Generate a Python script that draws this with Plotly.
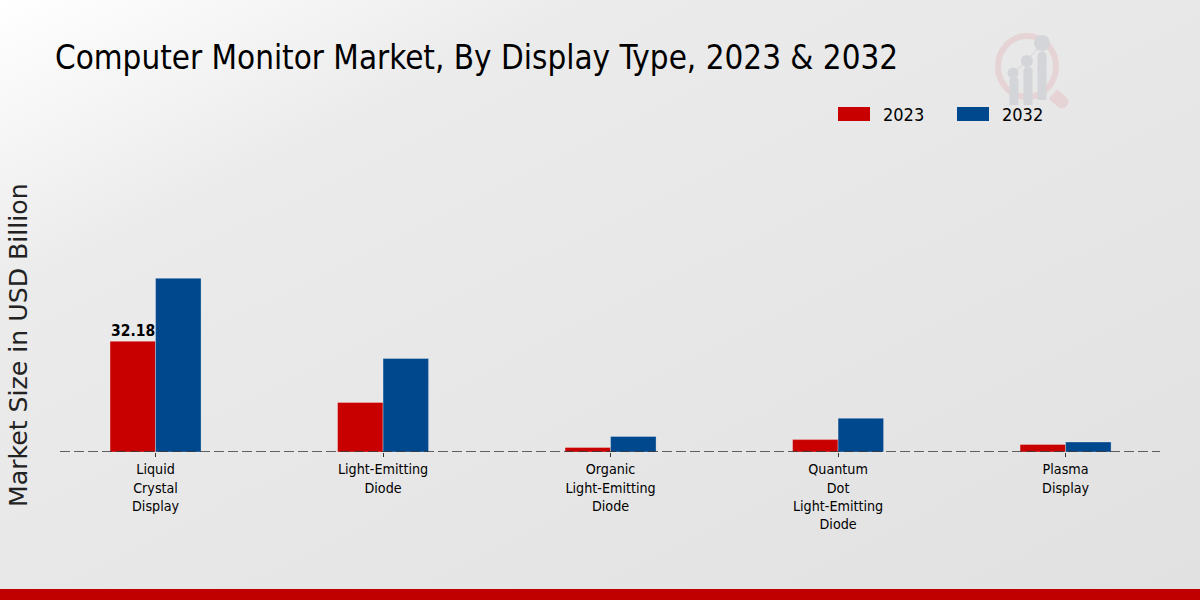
import base64

import plotly.graph_objects as go

categories = [
    "Liquid<br>Crystal<br>Display",
    "Light-Emitting<br>Diode",
    "Organic<br>Light-Emitting<br>Diode",
    "Quantum<br>Dot<br>Light-Emitting<br>Diode",
    "Plasma<br>Display",
]
values_2023 = [32.18, 14.4, 1.3, 3.6, 2.2]
values_2032 = [50.5, 27.2, 4.5, 9.8, 2.9]

title = "Computer Monitor Market, By Display Type, 2023 & 2032"
y_title = "Market Size in USD Billion"

RED = "#c80000"
BLUE = "#00488d"
FONT = "DejaVu Sans Condensed"
LOGO_RED = "#e6d3d5"
LOGO_GREY = "#d3d5d8"
W, H = 1200, 600
# plot area in page pixels
LEFT, RIGHT, TOP, BASE = 60, 1160, 100, 452


def px(x):
    return (x - LEFT) / (RIGHT - LEFT)


def py(y):
    return (BASE - y) / (BASE - TOP)


# background gradient, goes in as an svg image
svg = (
    f'<svg xmlns="http://www.w3.org/2000/svg" width="{W}" height="{H}">'
    '<defs><linearGradient id="g" x1="0" y1="0" x2="1" y2="1">'
    '<stop offset="0" stop-color="#ffffff"/>'
    '<stop offset="0.25" stop-color="#ebebeb"/>'
    '<stop offset="1" stop-color="#e1e1e1"/>'
    '</linearGradient></defs>'
    f'<rect width="{W}" height="{H}" fill="url(#g)"/></svg>'
)
bg_uri = "data:image/svg+xml;base64," + base64.b64encode(svg.encode()).decode()

fig = go.Figure()
fig.add_trace(go.Bar(
    x=categories, y=values_2023, name="2023",
    marker=dict(color=RED, line=dict(color="rgba(255,255,255,0.6)", width=0.5)),
))
fig.add_trace(go.Bar(
    x=categories, y=values_2032, name="2032",
    marker=dict(color=BLUE, line=dict(color="rgba(255,255,255,0.6)", width=0.5)),
))


def rect(x0, x1, y0, y1, color):
    return dict(type="rect", xref="paper", yref="paper", x0=px(x0), x1=px(x1), y0=py(y0), y1=py(y1),
                fillcolor=color, line_width=0)


def logo_line(x0, y0, x1, y1, color, width):
    return dict(type="line", xref="paper", yref="paper", x0=px(x0), x1=px(x1), y0=py(y0), y1=py(y1),
                line=dict(color=color, width=width), layer="below")


def logo_dot(cx, cy, r, color):
    return dict(type="circle", xref="paper", yref="paper", x0=px(cx - r), x1=px(cx + r),
                y0=py(cy + r), y1=py(cy - r), fillcolor=color, line_width=0, layer="below")


shapes = [
    # dashed baseline
    dict(type="line", xref="paper", yref="y", x0=0, x1=1, y0=0, y1=0,
         line=dict(color="#333333", width=1.5, dash="10px,4px"), layer="above"),
    # bottom strip
    rect(0, W, H, 589, "#c00000"),
    # legend swatches
    rect(838, 870, 121, 107, RED),
    rect(957, 989, 121, 107, BLUE),
    # watermark logo
    dict(type="circle", xref="paper", yref="paper", x0=px(998), x1=px(1056), y0=py(97), y1=py(36),
         fillcolor="rgba(0,0,0,0)", line=dict(color=LOGO_RED, width=6), layer="below"),
    logo_line(1053, 94, 1062, 102, LOGO_RED, 13),
    logo_dot(1062, 102, 6.5, LOGO_RED),
    logo_line(1013, 73, 1027, 61, LOGO_GREY, 1),
    logo_line(1027, 61, 1042, 43, LOGO_GREY, 1),
    logo_line(1014, 105, 1014, 81, LOGO_GREY, 9),
    logo_line(1028, 105, 1028, 71, LOGO_GREY, 9),
    logo_line(1042, 100, 1042, 56, LOGO_GREY, 9),
    logo_dot(1014, 81, 4.5, LOGO_GREY),
    logo_dot(1028, 71, 4.5, LOGO_GREY),
    logo_dot(1042, 56, 4.5, LOGO_GREY),
    logo_dot(1013, 73, 5.5, LOGO_GREY),
    logo_dot(1027, 61, 6, LOGO_GREY),
    logo_dot(1042, 43, 8, LOGO_GREY),
]

annotations = [
    dict(text=title, xref="paper", yref="paper", x=px(53), y=py(57), xanchor="left", yanchor="middle",
         showarrow=False, font=dict(family=FONT, size=32.9, color="black")),
    dict(text=y_title, xref="paper", yref="paper", x=px(18), y=py(345), xanchor="center", yanchor="middle",
         textangle=-90, showarrow=False, font=dict(family="DejaVu Sans", size=25.2, color="#222222")),
    dict(text="2023", xref="paper", yref="paper", x=px(881), y=py(114), xanchor="left", yanchor="middle",
         showarrow=False, font=dict(family=FONT, size=18, color="black")),
    dict(text="2032", xref="paper", yref="paper", x=px(1000), y=py(114), xanchor="left", yanchor="middle",
         showarrow=False, font=dict(family=FONT, size=18, color="black")),
    # value label on the first red bar
    dict(text=f"<b>{values_2023[0]}</b>", x=0, y=values_2023[0], xref="x", yref="y",
         xanchor="center", yanchor="bottom", xshift=-22.7, yshift=-1, showarrow=False,
         font=dict(family=FONT, size=15.5, color="black")),
]

fig.update_layout(
    width=W, height=H,
    autosize=False,
    barmode="group", bargap=0.6, bargroupgap=0,
    showlegend=False,
    paper_bgcolor="#e6e6e6", plot_bgcolor="rgba(0,0,0,0)",
    margin=dict(l=LEFT, r=W - RIGHT, t=TOP, b=H - BASE, pad=0),
    shapes=shapes, annotations=annotations,
    images=[dict(source=bg_uri, xref="paper", yref="paper", x=px(0), y=py(0),
                 sizex=W / (RIGHT - LEFT), sizey=H / (BASE - TOP),
                 xanchor="left", yanchor="top", sizing="stretch", layer="below")],
)
fig.update_xaxes(
    type="category", range=[-0.42, 4.415], showgrid=False, zeroline=False, showline=False,
    ticks="outside", ticklen=4, tickwidth=1, tickcolor="#333333", tickangle=0,
    tickfont=dict(family=FONT, size=14.2, color="black"),
)
fig.update_yaxes(range=[0, 102.3], visible=False)

# page has a default body margin, drop it so the figure sits at 0,0
fig.write_html("out.html", config=dict(displayModeBar=False),
               post_script="document.body.style.margin = '0';")
